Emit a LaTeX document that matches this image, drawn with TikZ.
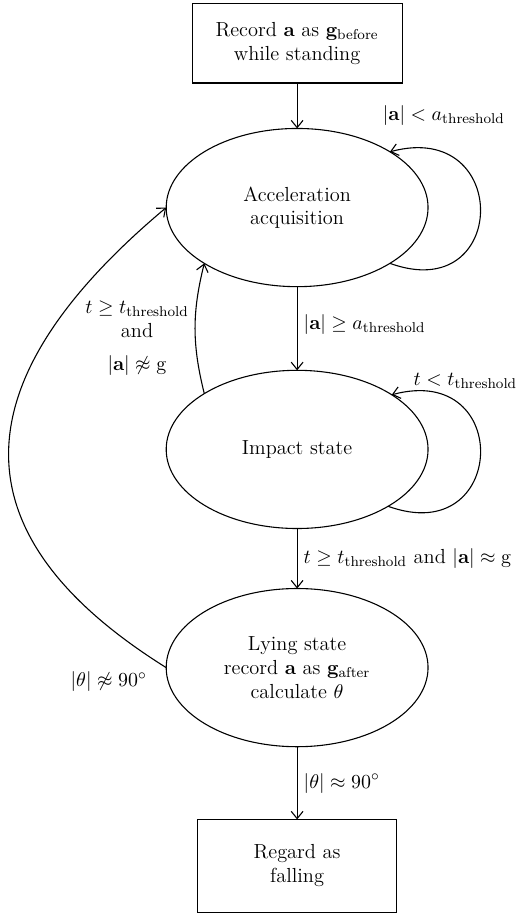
\documentclass[tikz,border=0pt]{standalone}
\usepackage{amsmath}
\usepackage{amssymb}
\usepackage{xcolor}
\usepackage{tikz}
\usetikzlibrary{arrows.meta,positioning,shapes.geometric}

\begin{document}
\begin{tikzpicture}[
  font=\fontsize{11.2}{13}\selectfont,
  box/.style={draw, align=center, inner sep=4pt, outer sep=0pt},
  state/.style={draw, ellipse, align=center, inner sep=0pt, outer sep=0pt, minimum width=144pt, minimum height=87pt},
  arrow/.style={-{Straight Barb[length=4pt, width=6.5pt]}},
  line width=0.6pt,
]
\useasboundingbox (-163.4pt,23.9pt) rectangle (120.5pt,-479.3pt);
\node[box, minimum width=115.5pt, minimum height=43.5pt] (rec) {Record $\mathbf{a}$ as $\mathbf{g}_{\text{before}}$\\while standing};
\node[state, below=25pt of rec] (acq) {Acceleration\\acquisition};
\node[state, below=46pt of acq] (imp) {Impact state};
\node[state, below=33pt of imp] (lie) {Lying state\\record $\mathbf{a}$ as $\mathbf{g}_{\text{after}}$\\calculate $\theta$};
\node[box, below=40pt of lie, minimum width=109.5pt, minimum height=51pt] (fall) {Regard as\\falling};
\draw[arrow] (rec) -- (acq);
\draw[arrow] (acq.-31) .. controls +(-20:69.6pt) and +(15:69.6pt) .. (acq.31)
  node[pos=0.85, above, xshift=4pt, yshift=10pt] {$|\mathbf{a}| < a_{\text{threshold}}$};
\draw[arrow] (acq) -- node[right, pos=0.45] {$|\mathbf{a}| \geq a_{\text{threshold}}$} (imp);
\draw[arrow] (imp.-32) .. controls +(-20:69.6pt) and +(15:69.6pt) .. (imp.30)
  node[pos=0.85, above, xshift=15pt, yshift=-1pt] {$t < t_{\text{threshold}}$};
\draw[arrow] (imp.149) to[bend left=14]
  node[left, align=center, pos=0.42] {$t \geq t_{\text{threshold}}$\\and\\[5pt]$|\mathbf{a}| \not\approx \mathrm{g}$} (acq.211);
\draw[arrow] (imp) -- node[right] {$t \geq t_{\text{threshold}}$ and $|\mathbf{a}| \approx \mathrm{g}$} (lie);
\draw[arrow] (lie.west) to[out=148, in=220, distance=143pt]
  node[pos=0.02, below left, yshift=-3pt] {$|\theta| \not\approx 90^\circ$} (acq.west);
\draw[arrow] (lie) -- node[right] {$|\theta| \approx 90^\circ$} (fall);
\end{tikzpicture}
\end{document}
